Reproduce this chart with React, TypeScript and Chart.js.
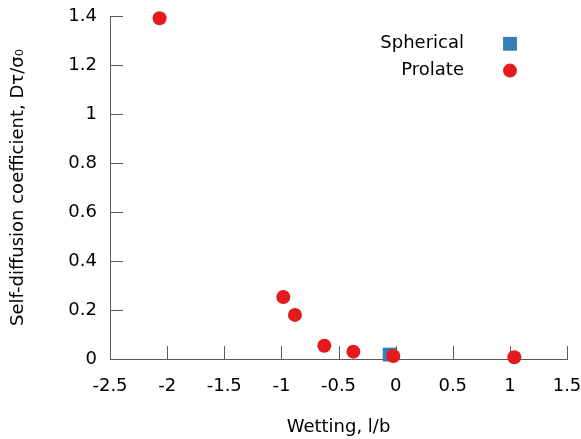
import React, { useEffect, useRef } from "react";
import { Chart, registerables } from "chart.js";

Chart.register(...registerables);

const sphericalX = [-0.052];
const sphericalY = [0.018];
const prolateX = [-2.066, -0.983, -0.881, -0.624, -0.37, -0.02, 1.039];
const prolateY = [1.391, 0.253, 0.18, 0.054, 0.03, 0.012, 0.007];

const xTickValues = [-2.5, -2, -1.5, -1, -0.5, 0, 0.5, 1, 1.5];
const xTickLabels = ["-2.5", "-2", "-1.5", "-1", "-0.5", "0", "0.5", "1", "1.5"];
const yTickValues = [0, 0.2, 0.4, 0.6, 0.8, 1, 1.2, 1.4];
const yTickLabels = ["0", "0.2", "0.4", "0.6", "0.8", "1", "1.2", "1.4"];

const seriesLabels = ["Spherical", "Prolate"];
const xTitle = "Wetting, l/b";
const yTitle = "Self-diffusion coefficient, Dτ/σ₀";

const AXIS_COLOR = "#5c5c5c";
const FONT = "'DejaVu Sans', sans-serif";
const FONT_SIZE = 18;
const BLUE = "#377eb8";
const RED = "#e41a1c";

const inwardTicks = {
  id: "inwardTicks",
  beforeDatasetsDraw(chart: any) {
    const { ctx, chartArea } = chart;
    const xs = chart.scales.x;
    const ys = chart.scales.y;
    const len = 13;
    ctx.save();
    ctx.strokeStyle = AXIS_COLOR;
    ctx.lineWidth = 1;
    ctx.beginPath();
    xTickValues.forEach((v) => {
      const px = Math.round(xs.getPixelForValue(v)) + 0.5;
      ctx.moveTo(px, chartArea.bottom);
      ctx.lineTo(px, chartArea.bottom - len);
    });
    yTickValues.forEach((v) => {
      const py = Math.round(ys.getPixelForValue(v)) + 0.5;
      ctx.moveTo(chartArea.left, py);
      ctx.lineTo(chartArea.left + len, py);
    });
    ctx.stroke();
    ctx.restore();
  },
};

const keyLegend = {
  id: "keyLegend",
  afterDatasetsDraw(chart: any) {
    const { ctx } = chart;
    const textRight = 464;
    const markerX = 510;
    const rows = [43.8, 70.6];
    ctx.save();
    ctx.font = `${FONT_SIZE}px ${FONT}`;
    ctx.textAlign = "right";
    ctx.textBaseline = "middle";
    chart.data.datasets.forEach((ds: any, i: number) => {
      const y = rows[i];
      ctx.fillStyle = "#000";
      ctx.fillText(ds.label, textRight, y);
      ctx.fillStyle = ds.backgroundColor;
      if (ds.pointStyle === "rect") {
        const s = ds.pointRadius * Math.SQRT1_2;
        ctx.fillRect(markerX - s, y - s, 2 * s, 2 * s);
      } else {
        ctx.beginPath();
        ctx.arc(markerX, y, ds.pointRadius, 0, Math.PI * 2);
        ctx.fill();
      }
    });
    ctx.restore();
  },
};

const zeroPadding = (s: any) => {
  s.paddingLeft = 0;
  s.paddingRight = 0;
  s.paddingTop = 0;
  s.paddingBottom = 0;
};

export default function App() {
  const canvasRef = useRef<HTMLCanvasElement>(null);

  useEffect(() => {
    document.body.style.margin = "0";
    const canvas = canvasRef.current;
    if (!canvas) return;
    const chart = new Chart(canvas, {
      type: "scatter",
      data: {
        datasets: [
          {
            label: seriesLabels[0],
            data: sphericalX.map((x, i) => ({ x, y: sphericalY[i] })),
            backgroundColor: BLUE,
            borderWidth: 0,
            pointStyle: "rect",
            pointRadius: 9.8,
            order: 2,
            clip: false,
          } as any,
          {
            label: seriesLabels[1],
            data: prolateX.map((x, i) => ({ x, y: prolateY[i] })),
            backgroundColor: RED,
            borderWidth: 0,
            pointStyle: "circle",
            pointRadius: 7,
            order: 1,
            clip: false,
          } as any,
        ],
      },
      options: {
        responsive: false,
        animation: false,
        devicePixelRatio: 1,
        layout: { padding: { top: 16, right: 14, left: 0, bottom: 0 } },
        plugins: {
          legend: { display: false },
          tooltip: { enabled: false },
        },
        scales: {
          x: {
            type: "linear",
            min: -2.5,
            max: 1.5,
            afterFit: (s: any) => {
              s.height = 80;
              zeroPadding(s);
            },
            afterBuildTicks: (s: any) => {
              s.ticks = xTickValues.map((v) => ({ value: v }));
            },
            grid: { display: false, drawTicks: false },
            border: { display: true, color: AXIS_COLOR, width: 1 },
            ticks: {
              padding: 17,
              color: "#000",
              font: { family: FONT, size: FONT_SIZE },
              maxRotation: 0,
              autoSkip: false,
              callback: (v: any) => {
                const i = xTickValues.findIndex((t) => Math.abs(t - v) < 1e-9);
                return i >= 0 ? xTickLabels[i] : "";
              },
            },
            title: {
              display: true,
              text: xTitle,
              color: "#000",
              font: { family: FONT, size: FONT_SIZE },
              padding: { top: 0, bottom: 1 },
            },
          },
          y: {
            type: "linear",
            min: 0,
            max: 1.4,
            afterFit: (s: any) => {
              s.width = 110;
              zeroPadding(s);
            },
            afterBuildTicks: (s: any) => {
              s.ticks = yTickValues.map((v) => ({ value: v }));
            },
            grid: { display: false, drawTicks: false },
            border: { display: true, color: AXIS_COLOR, width: 1 },
            ticks: {
              padding: 13,
              color: "#000",
              font: { family: FONT, size: FONT_SIZE },
              autoSkip: false,
              callback: (v: any) => {
                const i = yTickValues.findIndex((t) => Math.abs(t - v) < 1e-9);
                return i >= 0 ? yTickLabels[i] : "";
              },
            },
            title: {
              display: true,
              text: yTitle,
              color: "#000",
              font: { family: FONT, size: FONT_SIZE },
              padding: { top: 8, bottom: 0 },
            },
          },
        },
      },
      plugins: [inwardTicks, keyLegend],
    });
    return () => chart.destroy();
  }, []);

  return (
    <div style={{ width: 581, height: 439 }}>
      <canvas ref={canvasRef} width={581} height={439} style={{ display: "block" }} />
    </div>
  );
}
